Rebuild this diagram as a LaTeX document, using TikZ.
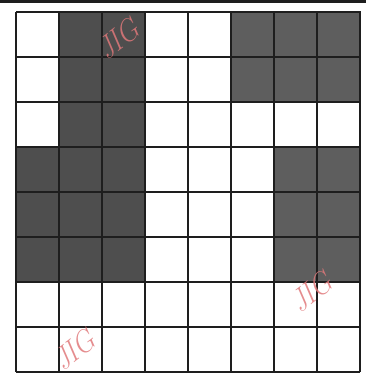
\documentclass[tikz,border=0pt]{standalone}
\usepackage{xcolor}
\usepackage{tikz}
\usetikzlibrary{positioning}
\definecolor{gridInk}{HTML}{1E1E1E}
\definecolor{cellDark}{HTML}{4E4E4E}
\definecolor{cellMid}{HTML}{5E5E5E}
\definecolor{markRed}{HTML}{E0787A}

\begin{document}
\begin{tikzpicture}[
  x=1pt, y=-1pt,
  celda/.style={draw=gridInk, line width=1.1pt},
  oscura/.style={celda, fill=cellDark},
  media/.style={celda, fill=cellMid},
  marca/.style={markRed, font=\fontsize{34}{34}\selectfont, xscale=0.75, rotate=30, opacity=0.85, inner sep=0pt},
]
\useasboundingbox (0,0) rectangle (366,374);

% ---- Borde superior ----
\draw[gridInk, line width=3pt] (0,1.5) -- (366,1.5);

% ---- Celdas sombreadas ----
\foreach \c/\r in {1/0,2/0,1/1,2/1,1/2,2/2,0/3,1/3,2/3,0/4,1/4,2/4,0/5,1/5,2/5}
  \path[oscura] (16+43*\c,12+45*\r) rectangle ++(43,45);
\foreach \c/\r in {5/0,6/0,7/0,5/1,6/1,7/1,6/3,7/3,6/4,7/4,6/5,7/5}
  \path[media] (16+43*\c,12+45*\r) rectangle ++(43,45);

% ---- Rejilla ----
\foreach \i in {0,...,8} {
  \draw[gridInk, line width=1.1pt] (16+43*\i,12) -- (16+43*\i,372);
  \draw[gridInk, line width=1.1pt] (16,12+45*\i) -- (360,12+45*\i);
}

% ---- Marcas de agua ----
\node[marca] (m1) at (120,37)  {JIG};
\node[marca] (m2) at (76,348)  {JIG};
\node[marca] (m3) at (313,290) {JIG};

\end{tikzpicture}
\end{document}
